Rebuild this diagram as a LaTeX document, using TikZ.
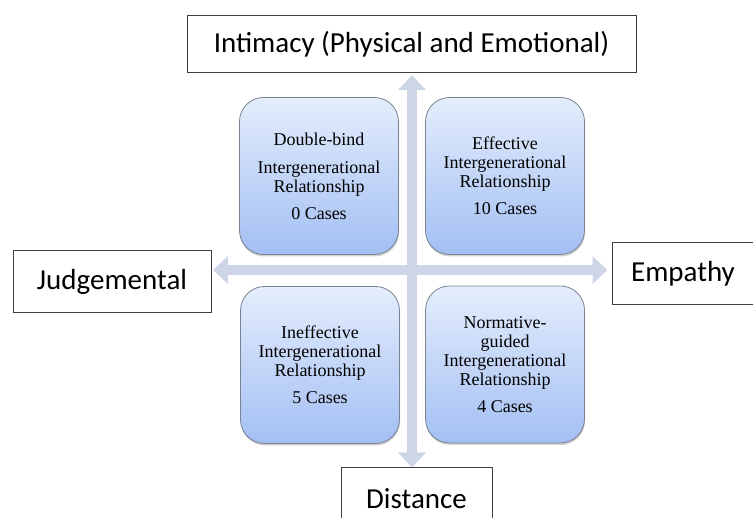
\documentclass[tikz,border=0pt]{standalone}
\usepackage{fontspec}
\setmainfont{Liberation Serif}
\newfontfamily\labelfont{Carlito}
\usetikzlibrary{arrows.meta,positioning,shadows}
\definecolor{axisblue}{RGB}{205,213,230}
\definecolor{celltop}{RGB}{228,237,252}
\definecolor{cellbottom}{RGB}{163,191,243}
\definecolor{cellline}{RGB}{120,130,145}

\begin{document}
\begin{tikzpicture}[x=1pt, y=-1pt,
    axislabel/.style={draw=black!75, line width=1pt, inner sep=0pt, minimum height=62pt, font=\labelfont\fontsize{29}{34}\selectfont},
    cell/.style={rounded corners=24pt, draw=cellline, line width=0.8pt, top color=celltop, bottom color=cellbottom, drop shadow={shadow xshift=0.5pt, shadow yshift=-2pt, fill=black!40, opacity=0.45}, align=center, minimum width=159pt, minimum height=157pt, inner sep=0pt, font=\fontsize{18}{19}\selectfont},
    axisarrow/.style={{Triangle[width=27pt,length=15pt]}-{Triangle[width=27pt,length=15pt]}, line width=10pt, draw=axisblue}
]
\useasboundingbox (0,0) rectangle (753,518);

\node[axislabel, minimum width=449pt, minimum height=57pt] (intimacy) at (411.5,44.5) {Intimacy (Physical and Emotional)};
\node[axislabel, minimum width=198pt] (judge) at (112,282) {Judgemental};
\node[axislabel, minimum width=142pt] (empathy) at (683,274) {Empathy};
\node[axislabel, minimum width=151pt] (distance) at (416.5,499) {Distance};

% the two axes
\coordinate (origin) at (412,270);
\draw[axisarrow, shorten <=1.5pt] (origin |- intimacy.south) -- (origin |- distance.north);
\draw[axisarrow, shorten <=1.5pt, shorten >=4pt] (judge.east |- origin) -- (empathy.west |- origin);

\node[cell] (doublebind) at (319,176) {Double-bind\\[9pt]Intergenerational\\Relationship\\[8pt]0 Cases};
\node[cell] (effective) at (505,176) {Effective\\Intergenerational\\Relationship\\[8pt]10 Cases};
\node[cell] (ineffective) at (320,365) {Ineffective\\Intergenerational\\Relationship\\[8pt]5 Cases};
\node[cell] (normative) at (505,364.5) {Normative-\\guided\\Intergenerational\\Relationship\\[8pt]4 Cases};
\end{tikzpicture}
\end{document}
